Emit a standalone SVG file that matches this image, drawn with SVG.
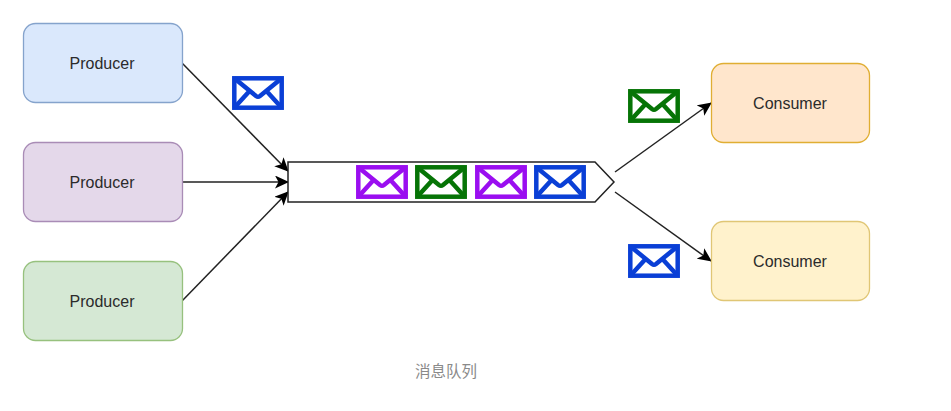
<svg xmlns="http://www.w3.org/2000/svg" width="951" height="411" viewBox="0 0 951 411">
<style>
.n{stroke-width:1.3}
.t{font-family:"Liberation Sans",Arial,sans-serif;font-size:16px;fill:#2b2b2b;text-anchor:middle}
.c{font-family:"Noto Sans CJK SC","Noto Sans",sans-serif;font-size:15.500px;fill:#8a8a8a;text-anchor:middle}
.l{fill:none;stroke:#222;stroke-width:1.5;marker-end:url(#a)}
.e{fill:#fff;stroke-width:4.500}
</style>
<defs>
<marker id="a" markerUnits="userSpaceOnUse" markerWidth="15" markerHeight="13" refX="13" refY="6.500" orient="auto"><path d="M0 0L14 6.500L0 13L3.500 6.500Z" fill="#000"/></marker>
<symbol id="m" viewBox="0 0 52 34" width="52" height="34" overflow="visible"><rect x="2.300" y="2.300" width="47.400" height="29.400"/><path d="M2.300 2.300L24 20Q26 21.500 28 20L49.700 2.300M2.300 31.700L18 14.500M49.700 31.700L34 14.500" fill="none"/></symbol>
</defs>
<rect width="951" height="411" fill="#fff"/>
<g id="connectors">
<path class="l" d="M182 63L288 171"/>
<path class="l" d="M183 182L288 182"/>
<path class="l" d="M182 301L288 192"/>
<path class="l" d="M615 172L711 103"/>
<path class="l" d="M615 192L711 261"/>
</g>
<g id="producer1"><rect class="n" x="23.500" y="23.500" width="159" height="79" rx="12" fill="#dae8fc" stroke="#85a3cc"/><text class="t" x="102" y="69">Producer</text></g>
<g id="producer2"><rect class="n" x="23.500" y="142.500" width="159" height="79" rx="12" fill="#e4d8ea" stroke="#a98cb6"/><text class="t" x="102" y="188">Producer</text></g>
<g id="producer3"><rect class="n" x="23.500" y="261.500" width="159" height="79" rx="12" fill="#d5e8d4" stroke="#97c17e"/><text class="t" x="102" y="307">Producer</text></g>
<g id="consumer1"><rect class="n" x="711.500" y="63.500" width="158" height="79" rx="12" fill="#ffe6cc" stroke="#e0ae33"/><text class="t" x="790" y="109">Consumer</text></g>
<g id="consumer2"><rect class="n" x="711.500" y="221.500" width="158" height="79" rx="12" fill="#fff2cc" stroke="#e0c675"/><text class="t" x="790" y="267">Consumer</text></g>
<g id="queue"><path d="M288 162L595 162L614 182L595 202L288 202Z" fill="#fff" stroke="#222" stroke-width="1.500"/></g>
<g id="mail-top" class="e" stroke="#0a3fd6"><use href="#m" x="232" y="76"/></g>
<g id="mail-q1" class="e" stroke="#9a0ef0"><use href="#m" x="356" y="165"/></g>
<g id="mail-q2" class="e" stroke="#067406"><use href="#m" x="415" y="165"/></g>
<g id="mail-q3" class="e" stroke="#9a0ef0"><use href="#m" x="475" y="165"/></g>
<g id="mail-q4" class="e" stroke="#0a3fd6"><use href="#m" x="534" y="165"/></g>
<g id="mail-green" class="e" stroke="#067406"><use href="#m" x="628" y="89"/></g>
<g id="mail-blue" class="e" stroke="#0a3fd6"><use href="#m" x="628" y="244"/></g>
<text class="c" x="446" y="377">消息队列</text>
</svg>
